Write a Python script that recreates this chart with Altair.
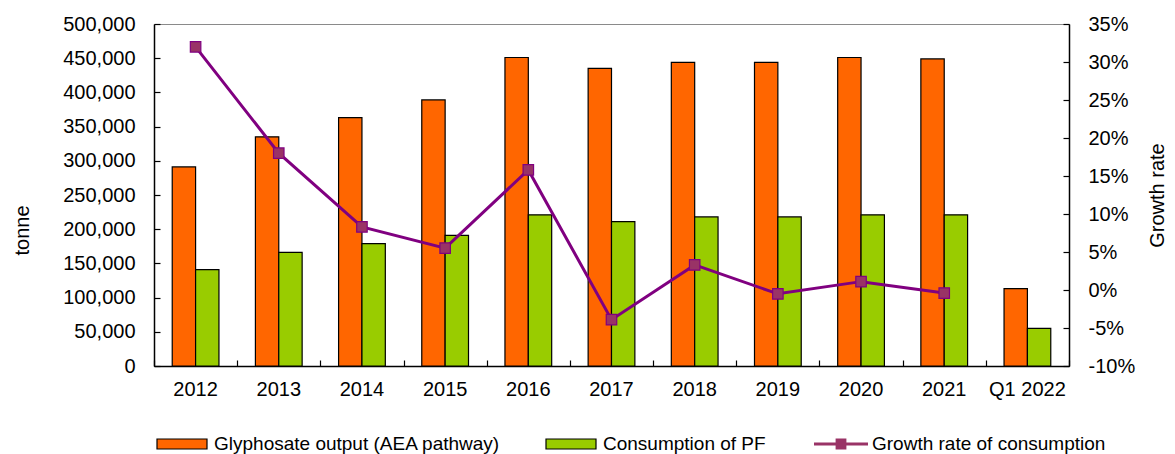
import altair as alt
import pandas as pd

# ---- data ----
years = ["2012", "2013", "2014", "2015", "2016", "2017", "2018", "2019", "2020", "2021", "Q1 2022"]
glyphosate = [291000, 335000, 363000, 389000, 451000, 435000, 444000, 444000, 451000, 449000, 113000]
pf_consumption = [141000, 166000, 179000, 191000, 221000, 211000, 218000, 218000, 221000, 221000, 55000]
growth_years = ["2012", "2013", "2014", "2015", "2016", "2017", "2018", "2019", "2020", "2021"]
growth_rate = [0.320, 0.180, 0.083, 0.055, 0.158, -0.039, 0.033, -0.005, 0.011, -0.004]

left_ticks = [0, 50000, 100000, 150000, 200000, 250000, 300000, 350000, 400000, 450000, 500000]
right_ticks = [-0.10, -0.05, 0.0, 0.05, 0.10, 0.15, 0.20, 0.25, 0.30, 0.35]

S1 = "Glyphosate output (AEA pathway)"
S2 = "Consumption of PF"
S3 = "Growth rate of consumption"

bars_df = pd.DataFrame({
    "year": years + years,
    "series": [S1] * len(years) + [S2] * len(years),
    "value": glyphosate + pf_consumption,
})
line_df = pd.DataFrame({"year": growth_years, "growth": growth_rate,
                        "series": [S3] * len(growth_years)})

W, H = 915, 342
FONT = "Liberation Sans"
AFS = 20
LFS = 19

color_scale = alt.Scale(domain=[S1, S2], range=["#FF6600", "#99CC00"])
x_scale = alt.Scale(domain=years, paddingInner=0, paddingOuter=0)
xoff_scale = alt.Scale(domain=[S1, S2], paddingInner=0, paddingOuter=0.78)
yl_scale = alt.Scale(domain=[0, 500000], nice=False, zero=True)
yr_scale = alt.Scale(domain=[-0.10, 0.35], nice=False, zero=False)

bar_path = "M-1,-0.2H1V0.2H-1Z"
line_path = "M-1,-0.06H1V0.06H-1Z M-0.2,-0.2H0.2V0.2H-0.2Z"

bar_legend = alt.Legend(
    title=None, orient="none", legendX=2, legendY=394, direction="horizontal",
    symbolType=bar_path, symbolSize=2500, symbolStrokeColor="black",
    symbolStrokeWidth=1.2, symbolOpacity=1,
    labelFont=FONT, labelFontSize=LFS, labelColor="black", labelLimit=0,
    labelOffset=6, columnPadding=42, padding=0,
)
line_legend = alt.Legend(
    title=None, orient="none", legendX=659, legendY=392, direction="horizontal",
    symbolType=line_path, symbolSize=2916, symbolFillColor="#993366",
    symbolStrokeColor="#800080", symbolStrokeWidth=1.2, symbolOpacity=1,
    labelFont=FONT, labelFontSize=LFS, labelColor="black", labelLimit=0,
    labelOffset=3, padding=0,
)

no_axis_style = dict(labels=False, domain=False, title=None, grid=False)

orange = alt.Chart(bars_df).transform_filter(alt.datum.series == S1).mark_bar(
    stroke="black", strokeWidth=1.2
).encode(
    x=alt.X("year:N", scale=x_scale, axis=alt.Axis(
        orient="bottom", labelAngle=0, ticks=False, domain=True, domainColor="black",
        domainWidth=1.5, labelPadding=13, labelFont=FONT, labelFontSize=AFS,
        labelColor="black", title=None, grid=False)),
    xOffset=alt.XOffset("series:N", scale=xoff_scale),
    y=alt.Y("value:Q", scale=yl_scale, axis=alt.Axis(
        orient="left", values=left_ticks, format=",.0f", ticks=False, tickSize=0,
        labelPadding=19, labelFont=FONT, labelFontSize=AFS, labelColor="black",
        domain=True, domainColor="black", domainWidth=1.5, grid=False,
        title="tonne", titleAngle=270, titleX=-126, titleY=206, titleBaseline="alphabetic",
        titleFont=FONT, titleFontSize=AFS, titleFontWeight="normal", titleColor="black")),
    color=alt.Color("series:N", scale=color_scale, legend=bar_legend),
)

green = alt.Chart(bars_df).transform_filter(alt.datum.series == S2).mark_bar(
    stroke="black", strokeWidth=1.2
).encode(
    x=alt.X("year:N", scale=x_scale, axis=None),
    xOffset=alt.XOffset("series:N", scale=xoff_scale),
    y=alt.Y("value:Q", scale=yl_scale, axis=alt.Axis(
        orient="right", offset=-W, values=left_ticks, ticks=True, tickSize=6,
        tickColor="black", tickWidth=1.2, **no_axis_style)),
    color=alt.Color("series:N", scale=color_scale, legend=bar_legend),
)

line = alt.Chart(line_df).mark_line(color="#800080", strokeWidth=3).encode(
    x=alt.X("year:N", scale=x_scale, axis=alt.Axis(
        orient="top", offset=-H, tickBand="extent", ticks=True, tickSize=6,
        tickColor="black", tickWidth=1.2, **no_axis_style)),
    y=alt.Y("growth:Q", scale=yr_scale, axis=alt.Axis(
        orient="right", values=right_ticks, labelExpr="round(datum.value * 100) + '%'",
        ticks=False, tickSize=0, labelPadding=19, labelFont=FONT, labelFontSize=AFS,
        labelColor="black", domain=True, domainColor="black", domainWidth=1.5, grid=False,
        title="Growth rate", titleAngle=270, titleX=94, titleY=H / 2,
        titleBaseline="alphabetic", titleFont=FONT, titleFontSize=AFS,
        titleFontWeight="normal", titleColor="black")),
)

points = alt.Chart(line_df).mark_point(
    shape="square", size=110, filled=True, fill="#993366", stroke="#800080",
    strokeWidth=1.2
).encode(
    x=alt.X("year:N", scale=x_scale, axis=None),
    y=alt.Y("growth:Q", scale=yr_scale, axis=alt.Axis(
        orient="left", offset=-W, values=right_ticks, ticks=True, tickSize=6,
        tickColor="black", tickWidth=1.2, **no_axis_style)),
    opacity=alt.Opacity("series:N", scale=alt.Scale(domain=[S3], range=[1]),
                        legend=line_legend),
)

chart = alt.layer(orange, green, line, points).resolve_scale(
    y="independent"
).resolve_axis(
    x="independent", y="independent"
).properties(
    width=W, height=H,
    autosize=alt.AutoSizeParams(type="none"),
    padding={"left": 146, "top": 16, "right": 98, "bottom": 88},
    background="white",
).configure_view(stroke="#8a8a8a", strokeWidth=1)

chart.save("out.html", embed_options={"renderer": "svg", "actions": False})
